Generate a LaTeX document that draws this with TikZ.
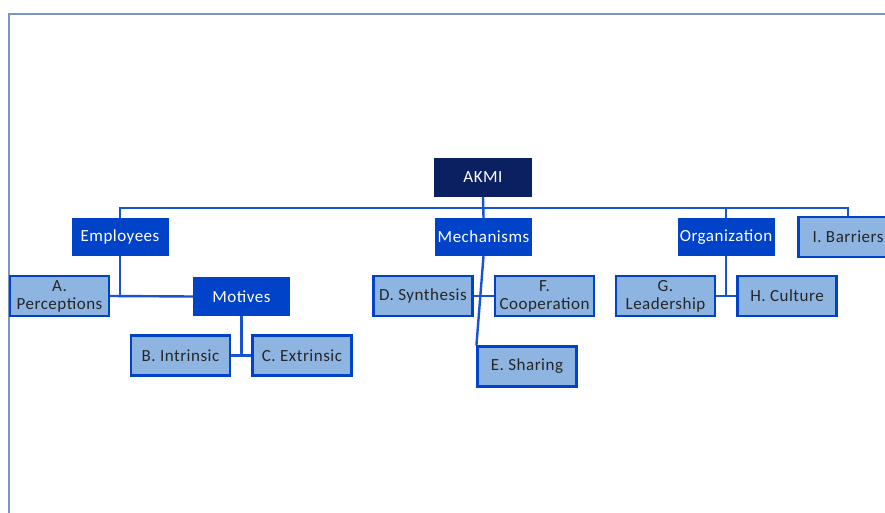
\documentclass[tikz,border=0pt]{standalone}
\usepackage{fontspec}
\setmainfont{Carlito}[LetterSpace=3]
\usepackage{xcolor}
\usetikzlibrary{positioning}
\definecolor{navy}{RGB}{10,32,96}
\definecolor{midblue}{RGB}{0,66,200}
\definecolor{paleblue}{RGB}{142,180,226}
\definecolor{linkblue}{RGB}{24,84,210}
\definecolor{framegray}{RGB}{120,150,190}
\begin{document}
\begin{tikzpicture}[x=1pt,y=-1pt,
  top/.style={fill=navy,text=white,minimum width=98pt,minimum height=39pt,inner sep=1pt},
  area/.style={fill=midblue,text=white,minimum width=97pt,minimum height=38pt,inner sep=1pt},
  item/.style={draw=midblue,line width=2.2pt,fill=paleblue,text=black!85,minimum width=99pt,minimum height=40pt,inner sep=1pt,align=center},
  link/.style={draw=linkblue,line width=2.4pt}]
  \useasboundingbox (0,0) rectangle (885,513);
  \draw[framegray,line width=1.5pt] (9,513)--(9,14)--(890,14);
  \fontsize{17}{18}\selectfont
  \node[top] (akmi) at (483,177.5) {AKMI};
  \node[area] (emp) at (120,237) {Employees};
  \node[area] (mech) at (483.5,237) {Mechanisms};
  \node[area] (org) at (726,237) {Organization};
  \node[item] (bar) at (848,237) {I. Barriers};
  \node[item] (perc) at (59.5,296) {A.\\Perceptions};
  \node[area,minimum height=39pt] (mot) at (241.5,296.5) {Motives};
  \node[item] (intr) at (180.5,355.5) {B. Intrinsic};
  \node[item] (extr) at (302,355.5) {C. Extrinsic};
  \node[item] (syn) at (423,296) {D. Synthesis};
  \node[item] (coop) at (544.5,296) {F.\\Cooperation};
  \node[item] (share) at (527,366.5) {E. Sharing};
  \node[item] (lead) at (665.5,296) {G.\\Leadership};
  \node[item] (cult) at (787,296) {H. Culture};
  \coordinate (bus) at (0,208);
  % top level
  \draw[link] (akmi.south)--(mech.north);
  \draw[link] (emp.north)--(emp.north|-bus)--(bar.north|-bus)--(bar.north);
  \draw[link] (org.north)--(org.north|-bus);
  % employees
  \draw[link] (emp.south)--(emp.south|-perc.east); \draw[link] (perc.east)--(mot.west);
  \draw[link] (mot.south)--(mot.south|-intr.east); \draw[link] (intr.east)--(extr.west);
  % mechanisms
  \draw[link] (mech.south)--(share.north west); \draw[link] (syn.east)--(coop.west);
  % organization
  \draw[link] (org.south)--(org.south|-lead.east); \draw[link] (lead.east)--(cult.west);
\end{tikzpicture}
\end{document}
